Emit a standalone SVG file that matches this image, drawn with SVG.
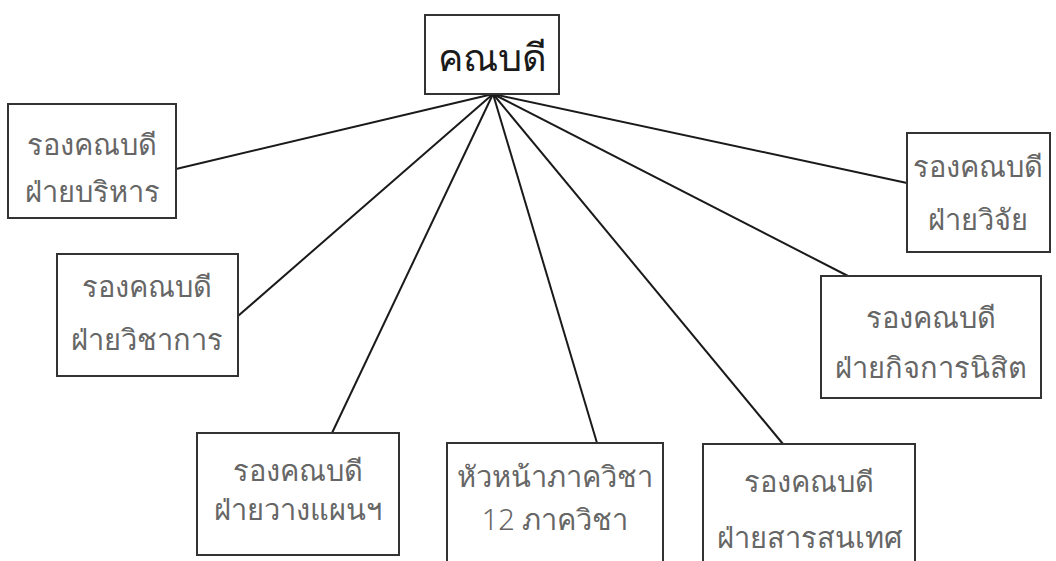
<svg xmlns="http://www.w3.org/2000/svg" width="1056" height="561" viewBox="0 0 1056 561">
<style>
.box{fill:#fff;stroke:#333;stroke-width:2}
.t{font-family:"Noto Sans","DejaVu Sans",sans-serif;font-size:29px;font-weight:300;fill:#666;text-anchor:middle}
.head{font-family:"Noto Sans","DejaVu Sans",sans-serif;font-size:38px;font-weight:400;fill:#1a1a1a;text-anchor:middle}
.c{stroke:#1a1a1a;stroke-width:2;fill:none}
</style>
<rect width="1056" height="561" fill="#fff"/>
<g id="connectors">
<line class="c" x1="493" y1="94" x2="176" y2="169"/>
<line class="c" x1="493" y1="94" x2="238" y2="316"/>
<line class="c" x1="493" y1="94" x2="332" y2="433"/>
<line class="c" x1="493" y1="94" x2="597" y2="443"/>
<line class="c" x1="493" y1="94" x2="783" y2="444"/>
<line class="c" x1="493" y1="94" x2="848" y2="276"/>
<line class="c" x1="493" y1="94" x2="907" y2="183"/>
</g>
<g id="dean">
<rect class="box" x="425" y="15" width="134" height="79"/>
<text class="head" x="492" y="71">คณบดี</text>
</g>
<g id="admin">
<rect class="box" x="8" y="104" width="168" height="114"/>
<text class="t" x="92" y="155">รองคณบดี</text>
<text class="t" x="92" y="202">ฝ่ายบริหาร</text>
</g>
<g id="academic">
<rect class="box" x="57" y="254" width="181" height="122"/>
<text class="t" x="147" y="297">รองคณบดี</text>
<text class="t" x="147" y="350">ฝ่ายวิชาการ</text>
</g>
<g id="planning">
<rect class="box" x="197" y="433" width="202" height="122"/>
<text class="t" x="298" y="481">รองคณบดี</text>
<text class="t" x="298" y="520">ฝ่ายวางแผนฯ</text>
</g>
<g id="departments">
<rect class="box" x="447" y="443" width="216" height="130"/>
<text class="t" x="555" y="487">หัวหน้าภาควิชา</text>
<text class="t" x="555" y="530">12 ภาควิชา</text>
</g>
<g id="info">
<rect class="box" x="703" y="444" width="212" height="130"/>
<text class="t" x="809" y="492">รองคณบดี</text>
<text class="t" x="809" y="548">ฝ่ายสารสนเทศ</text>
</g>
<g id="student">
<rect class="box" x="821" y="276" width="220" height="122"/>
<text class="t" x="931" y="328">รองคณบดี</text>
<text class="t" x="931" y="378">ฝ่ายกิจการนิสิต</text>
</g>
<g id="research">
<rect class="box" x="907" y="133" width="143" height="119"/>
<text class="t" x="978" y="177">รองคณบดี</text>
<text class="t" x="978" y="230">ฝ่ายวิจัย</text>
</g>
</svg>
